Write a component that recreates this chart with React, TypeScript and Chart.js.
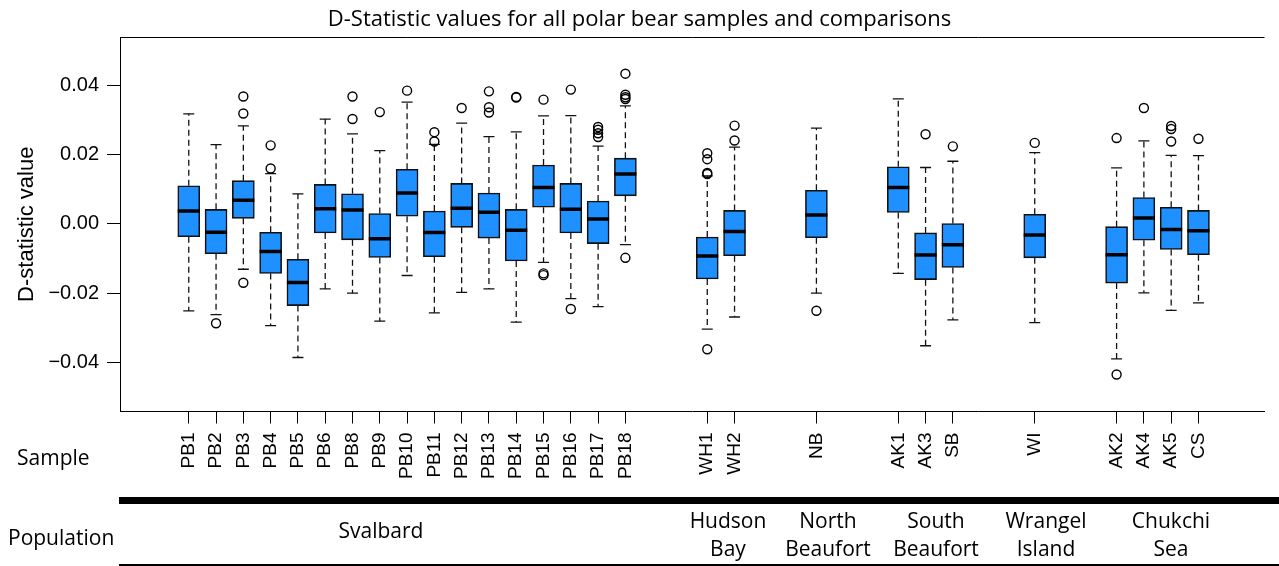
import React, { useEffect, useRef } from "react";
import { Chart, registerables } from "chart.js";

Chart.register(...registerables);

const samples = ["PB1","PB2","PB3","PB4","PB5","PB6","PB8","PB9","PB10","PB11","PB12","PB13","PB14","PB15","PB16","PB17","PB18","WH1","WH2","NB","AK1","AK3","SB","WI","AK2","AK4","AK5","CS"];
const positions = [1,2,3,4,5,6,7,8,9,10,11,12,13,14,15,16,17,20,21,24,27,28,29,32,35,36,37,38];
const upperWhisker = [0.0318,0.0229,0.0283,0.0145,0.0087,0.0303,0.0260,0.0212,0.0352,0.0230,0.0291,0.0252,0.0266,0.0312,0.0313,0.0225,0.0341,0.0139,0.0222,0.0277,0.0361,0.0163,0.0181,0.0206,0.0162,0.0240,0.0198,0.0197];
const q3 = [0.0110,0.0042,0.0125,-0.0024,-0.0102,0.0114,0.0087,0.0030,0.0158,0.0037,0.0117,0.0089,0.0042,0.0170,0.0117,0.0066,0.0190,-0.0038,0.0039,0.0097,0.0165,-0.0026,0.0001,0.0028,-0.0008,0.0076,0.0048,0.0039];
const medians = [0.0037,-0.0024,0.0068,-0.0080,-0.0169,0.0044,0.0040,-0.0043,0.0089,-0.0025,0.0045,0.0034,-0.0018,0.0105,0.0042,0.0014,0.0144,-0.0093,-0.0022,0.0026,0.0105,-0.0090,-0.0060,-0.0032,-0.0089,0.0017,-0.0016,-0.0020];
const q1 = [-0.0037,-0.0086,0.0016,-0.0143,-0.0236,-0.0026,-0.0046,-0.0097,0.0022,-0.0095,-0.0010,-0.0041,-0.0107,0.0048,-0.0026,-0.0057,0.0081,-0.0159,-0.0092,-0.0040,0.0033,-0.0161,-0.0126,-0.0098,-0.0171,-0.0047,-0.0074,-0.0089];
const lowerWhisker = [-0.0251,-0.0262,-0.0131,-0.0294,-0.0386,-0.0188,-0.0200,-0.0281,-0.0149,-0.0257,-0.0198,-0.0188,-0.0284,-0.0111,-0.0216,-0.0239,-0.0060,-0.0304,-0.0269,-0.0200,-0.0143,-0.0352,-0.0277,-0.0285,-0.0390,-0.0199,-0.0250,-0.0228];
const outliers: number[][] = [
  [],
  [-0.0287],
  [0.0368, 0.0319, -0.0170],
  [0.0227, 0.0160],
  [],
  [],
  [0.0368, 0.0303],
  [0.0323],
  [0.0385],
  [0.0265, 0.0238],
  [0.0335],
  [0.0383, 0.0337, 0.0322],
  [0.0367, 0.0365],
  [0.0359, -0.0143, -0.0148],
  [0.0388, -0.0246],
  [0.0280, 0.0272, 0.0262, 0.0251],
  [0.0434, 0.0373, 0.0366, 0.0361, -0.0098],
  [0.0204, 0.0187, 0.0147, 0.0144, -0.0362],
  [0.0284, 0.0241],
  [-0.0251],
  [],
  [0.0259],
  [0.0224],
  [0.0234],
  [0.0248, -0.0435],
  [0.0335],
  [0.0283, 0.0274, 0.0238],
  [0.0246],
];
const yTicks = [-0.04, -0.02, 0, 0.02, 0.04];
const yTickLabels = ["\u22120.04", "\u22120.02", "0.00", "0.02", "0.04"];
const populationNames: string[][] = [["Svalbard"], ["Hudson", "Bay"], ["North", "Beaufort"], ["South", "Beaufort"], ["Wrangel", "Island"], ["Chukchi", "Sea"]];
const titleText = "D-Statistic values for all polar bear samples and comparisons";
const yAxisTitle = "D-statistic value";
const sampleRowLabel = "Sample";
const populationRowLabel = "Population";

const popCenters = [381, 728, 828, 936, 1046, 1171];
const W = 1279;
const H = 566;
const uiFont = "'Open Sans', sans-serif";

export default function App() {
  const ref = useRef<HTMLCanvasElement | null>(null);

  useEffect(() => {
    if (!ref.current) return;
    const boxData = positions.map((p, i) => ({ x: p, y: [q1[i], q3[i]] }));
    const medData = positions.map((p, i) => ({ x: p, y: medians[i] }));
    const capData: { x: number; y: number }[] = [];
    positions.forEach((p, i) => {
      capData.push({ x: p, y: upperWhisker[i] });
      capData.push({ x: p, y: lowerWhisker[i] });
    });
    const whiskerData: { x: number; y: number | null }[] = [];
    positions.forEach((p, i) => {
      whiskerData.push({ x: p, y: q3[i] }, { x: p, y: upperWhisker[i] }, { x: p, y: null });
      whiskerData.push({ x: p, y: q1[i] }, { x: p, y: lowerWhisker[i] }, { x: p, y: null });
    });
    const outData: { x: number; y: number }[] = [];
    positions.forEach((p, i) => outliers[i].forEach((v) => outData.push({ x: p, y: v })));

    const topBorder = {
      id: "topBorder",
      afterDraw(chart: any) {
        const { ctx, chartArea } = chart;
        ctx.save();
        ctx.strokeStyle = "#000";
        ctx.lineWidth = 1;
        ctx.beginPath();
        ctx.moveTo(chartArea.left, Math.round(chartArea.top) + 0.5);
        ctx.lineTo(chartArea.right, Math.round(chartArea.top) + 0.5);
        ctx.stroke();
        ctx.restore();
      },
    };

    const chart = new Chart(ref.current, {
      type: "bar",
      data: {
        datasets: [
          {
            type: "line",
            data: whiskerData as any,
            borderColor: "#111",
            borderWidth: 1.3,
            borderDash: [6, 4],
            pointRadius: 0,
            spanGaps: false,
            fill: false,
            order: 5,
          } as any,
          {
            type: "bar",
            data: boxData as any,
            backgroundColor: "#1E90FF",
            borderColor: "#111",
            borderWidth: 1.6,
            borderSkipped: false,
            barThickness: 22,
            order: 4,
          } as any,
          {
            type: "scatter",
            data: capData,
            pointStyle: "line",
            pointRadius: 5.5,
            borderColor: "#111",
            pointBorderWidth: 1.3,
            borderWidth: 1.3,
            order: 3,
          } as any,
          {
            type: "scatter",
            data: medData,
            pointStyle: "line",
            pointRadius: 11,
            borderColor: "#000",
            pointBorderWidth: 3.5,
            borderWidth: 3.5,
            order: 2,
          } as any,
          {
            type: "scatter",
            data: outData,
            pointStyle: "circle",
            pointRadius: 4.5,
            backgroundColor: "rgba(255,255,255,0)",
            borderColor: "#000",
            pointBorderWidth: 1.4,
            borderWidth: 1.4,
            order: 1,
          } as any,
        ],
      },
      options: {
        responsive: false,
        animation: false,
        events: [],
        layout: { padding: { top: 37, left: 0, right: 0, bottom: 0 } },
        plugins: {
          legend: { display: false },
          tooltip: { enabled: false },
          title: { display: false },
        },
        scales: {
          x: {
            type: "linear",
            min: -1.52,
            max: 40.42,
            offset: false,
            grid: { offset: false, drawOnChartArea: false, drawTicks: true, tickLength: 12, color: "#000", lineWidth: 1 },
            border: { display: true, color: "#000", width: 1 },
            afterBuildTicks: (scale: any) => {
              scale.ticks = positions.map((v) => ({ value: v }));
            },
            afterFit: (scale: any) => {
              scale.height = H - 411.5;
            },
            ticks: {
              autoSkip: false,
              minRotation: 90,
              maxRotation: 90,
              padding: 9,
              color: "#000",
              font: { family: "'Liberation Sans', Arial, sans-serif", size: 19 },
              callback: (value: any) => {
                const i = positions.indexOf(Number(value));
                return i >= 0 ? samples[i] : "";
              },
            },
          },
          y: {
            type: "linear",
            min: -0.0542,
            max: 0.054,
            grid: { drawOnChartArea: false, drawTicks: true, tickLength: 13, color: "#000", lineWidth: 1 },
            border: { display: true, color: "#000", width: 1 },
            afterBuildTicks: (scale: any) => {
              scale.ticks = yTicks.map((v) => ({ value: v }));
            },
            afterFit: (scale: any) => {
              scale.width = 120;
            },
            title: {
              display: true,
              text: yAxisTitle,
              color: "#000",
              font: { family: "'Liberation Sans', Arial, sans-serif", size: 22 },
              padding: { top: 14, bottom: 0 },
            },
            ticks: {
              padding: 8,
              color: "#000",
              font: { family: "'Liberation Sans', Arial, sans-serif", size: 20 },
              callback: (value: any) => {
                const i = yTicks.findIndex((t) => Math.abs(t - Number(value)) < 1e-9);
                return i >= 0 ? yTickLabels[i] : "";
              },
            },
          },
        },
      } as any,
      plugins: [topBorder],
    });
    return () => chart.destroy();
  }, []);

  const textBase: React.CSSProperties = {
    position: "absolute",
    fontFamily: uiFont,
    fontSize: 21,
    lineHeight: "28px",
    color: "#000",
    whiteSpace: "nowrap",
  };

  return (
    <div style={{ position: "fixed", left: 0, top: 0, width: W, height: H, overflow: "hidden", background: "#fff" }}>
      <canvas ref={ref} width={W} height={H} style={{ position: "absolute", left: 0, top: 0, width: W, height: H }} />
      <div style={{ ...textBase, left: 0, top: 2, width: W, textAlign: "center", fontSize: 22, lineHeight: "30px" }}>{titleText}</div>
      <div style={{ ...textBase, left: 17, top: 443 }}>{sampleRowLabel}</div>
      <div style={{ ...textBase, left: 8, top: 523 }}>{populationRowLabel}</div>
      <div style={{ position: "absolute", left: 119, top: 497, width: W - 119, height: 7, background: "#000" }} />
      <div style={{ position: "absolute", left: 119, top: 564, width: W - 119, height: 2, background: "#000" }} />
      {populationNames.map((lines, i) => (
        <div
          key={i}
          style={{
            ...textBase,
            left: popCenters[i] - 100,
            width: 200,
            textAlign: "center",
            top: lines.length === 1 ? 516 : 506,
          }}
        >
          {lines.map((l, j) => (
            <div key={j}>{l}</div>
          ))}
        </div>
      ))}
    </div>
  );
}
